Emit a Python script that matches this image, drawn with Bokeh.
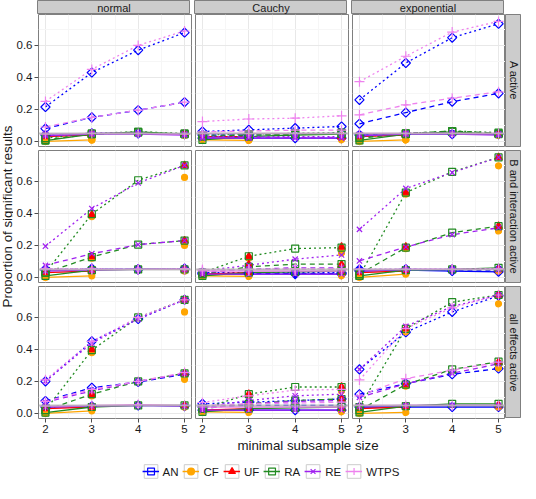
import numpy as np
from bokeh.plotting import figure
from bokeh.layouts import row, column
from bokeh.models import FixedTicker, Span, Legend, LegendItem, Spacer, Range1d, PrintfTickFormatter
from bokeh.core.properties import value
from bokeh.embed import file_html
from bokeh.resources import INLINE

nan = float("nan")

# ---------------- data ----------------
sizes = [2, 3, 4, 5]
x_tick_labels = ["2", "3", "4", "5"]
y_ticks = [0.0, 0.2, 0.4, 0.6]
methods = ["AN", "CF", "UF", "RA", "RE", "WTPS"]
distributions = ["normal", "Cauchy", "exponential"]
scenarios = ["A active", "B and interaction active", "all effects active"]
null_level = 0.05

# each entry: method -> [solid, dashed, dotted] values at sizes 2..5
A_normal = {
    "AN":   [[0.04, 0.05, 0.05, 0.045], [0.08, 0.15, 0.195, 0.245], [0.215, 0.43, 0.57, 0.68]],
    "CF":   [[0.0, 0.01, nan, 0.04], [nan, 0.01, nan, 0.04], [nan, 0.01, nan, 0.04]],
    "UF":   [[0.03, 0.04, nan, 0.045], [nan, 0.04, nan, 0.045], [nan, 0.04, nan, 0.045]],
    "RA":   [[0.005, 0.045, 0.06, 0.045], [0.01, 0.045, 0.055, 0.045], [0.02, 0.05, 0.06, 0.05]],
    "RE":   [[0.035, 0.045, 0.045, 0.04], [0.04, 0.05, 0.05, 0.045], [0.045, 0.05, 0.05, 0.045]],
    "WTPS": [[0.045, 0.05, 0.05, 0.045], [0.09, 0.15, 0.195, 0.245], [0.25, 0.45, 0.60, 0.69]],
}
A_cauchy = {
    "AN":   [[0.02, 0.02, 0.02, 0.02], [0.04, 0.04, 0.045, 0.05], [0.062, 0.072, 0.083, 0.093]],
    "CF":   [[0.01, 0.006, nan, 0.01], [nan, 0.01, nan, 0.02], [nan, 0.01, nan, 0.02]],
    "UF":   [[0.03, 0.03, nan, 0.03], [nan, 0.03, nan, 0.03], [nan, 0.03, nan, 0.03]],
    "RA":   [[0.01, 0.03, 0.04, 0.045], [0.03, 0.04, 0.045, 0.05], [0.04, 0.045, 0.05, 0.055]],
    "RE":   [[0.02, 0.02, 0.02, 0.02], [0.025, 0.025, 0.025, 0.025], [0.03, 0.03, 0.03, 0.03]],
    "WTPS": [[0.05, 0.05, 0.05, 0.05], [0.06, 0.065, 0.07, 0.07], [0.124, 0.14, 0.145, 0.16]],
}
A_exponential = {
    "AN":   [[0.04, 0.045, 0.045, 0.045], [0.11, 0.18, 0.248, 0.30], [0.259, 0.49, 0.648, 0.735]],
    "CF":   [[0.0, 0.01, nan, 0.04], [nan, 0.01, nan, 0.04], [nan, 0.01, nan, 0.04]],
    "UF":   [[0.03, 0.04, nan, 0.045], [nan, 0.04, nan, 0.045], [nan, 0.04, nan, 0.045]],
    "RA":   [[0.006, 0.045, 0.06, 0.045], [0.02, 0.05, 0.065, 0.05], [0.03, 0.05, 0.065, 0.055]],
    "RE":   [[0.035, 0.045, 0.045, 0.04], [0.04, 0.05, 0.05, 0.045], [0.045, 0.05, 0.05, 0.045]],
    "WTPS": [[0.05, 0.05, 0.05, 0.05], [0.166, 0.228, 0.27, 0.31], [0.373, 0.532, 0.683, 0.75]],
}
B_normal = {
    "AN":   [[0.045, 0.05, 0.05, 0.05], [0.05, 0.05, 0.05, 0.05], [0.05, 0.055, 0.05, 0.055]],
    "CF":   [[0.0, 0.01, nan, 0.04], [nan, 0.12, nan, 0.20], [nan, 0.38, nan, 0.625]],
    "UF":   [[0.03, 0.04, nan, 0.05], [nan, 0.13, nan, 0.23], [nan, 0.39, nan, 0.70]],
    "RA":   [[0.01, 0.045, 0.05, 0.05], [0.03, 0.127, 0.205, 0.23], [0.03, 0.395, 0.607, 0.70]],
    "RE":   [[0.04, 0.045, 0.05, 0.05], [0.075, 0.148, 0.205, 0.23], [0.195, 0.43, 0.59, 0.70]],
    "WTPS": [[0.05, 0.05, 0.05, 0.05], [0.05, 0.05, 0.05, 0.05], [0.055, 0.055, 0.05, 0.055]],
}
B_cauchy = {
    "AN":   [[0.02, 0.02, 0.02, 0.02], [0.025, 0.025, 0.025, 0.025], [0.03, 0.03, 0.03, 0.03]],
    "CF":   [[0.01, 0.006, nan, 0.01], [nan, 0.06, nan, 0.07], [nan, 0.12, nan, 0.153]],
    "UF":   [[0.02, 0.03, nan, 0.03], [nan, 0.08, nan, 0.08], [nan, 0.13, nan, 0.19]],
    "RA":   [[0.01, 0.03, 0.035, 0.04], [0.02, 0.066, 0.083, 0.083], [0.03, 0.132, 0.18, 0.186]],
    "RE":   [[0.02, 0.02, 0.02, 0.02], [0.03, 0.05, 0.06, 0.06], [0.04, 0.076, 0.114, 0.14]],
    "WTPS": [[0.04, 0.04, 0.04, 0.04], [0.045, 0.05, 0.05, 0.05], [0.05, 0.05, 0.055, 0.055]],
}
B_exponential = {
    "AN":   [[0.04, 0.045, 0.04, 0.035], [0.045, 0.05, 0.045, 0.045], [0.05, 0.05, 0.05, 0.05]],
    "CF":   [[0.0, 0.02, nan, 0.04], [nan, 0.18, nan, 0.29], [nan, 0.52, nan, 0.697]],
    "UF":   [[0.03, 0.04, nan, 0.05], [nan, 0.19, nan, 0.32], [nan, 0.53, nan, 0.75]],
    "RA":   [[0.01, 0.045, 0.05, 0.06], [0.02, 0.186, 0.28, 0.32], [0.01, 0.53, 0.66, 0.75]],
    "RE":   [[0.04, 0.05, 0.05, 0.05], [0.103, 0.19, 0.267, 0.31], [0.30, 0.556, 0.655, 0.75]],
    "WTPS": [[0.05, 0.05, 0.05, 0.05], [0.05, 0.05, 0.05, 0.05], [0.05, 0.05, 0.05, 0.055]],
}
C_normal = {
    "AN":   [[0.04, 0.045, 0.05, 0.045], [0.078, 0.16, 0.196, 0.244], [0.20, 0.45, 0.59, 0.71]],
    "CF":   [[0.0, 0.016, nan, 0.04], [nan, 0.11, nan, 0.213], [nan, 0.38, nan, 0.634]],
    "UF":   [[0.03, 0.04, nan, 0.05], [nan, 0.12, nan, 0.25], [nan, 0.40, nan, 0.71]],
    "RA":   [[0.005, 0.04, 0.05, 0.05], [0.02, 0.12, 0.20, 0.25], [0.02, 0.395, 0.60, 0.71]],
    "RE":   [[0.04, 0.045, 0.05, 0.045], [0.07, 0.14, 0.20, 0.25], [0.20, 0.44, 0.59, 0.71]],
    "WTPS": [[0.045, 0.05, 0.055, 0.05], [0.075, 0.15, 0.20, 0.255], [0.21, 0.45, 0.60, 0.71]],
}
C_cauchy = {
    "AN":   [[0.02, 0.02, 0.02, 0.02], [0.04, 0.05, 0.05, 0.05], [0.06, 0.07, 0.08, 0.09]],
    "CF":   [[0.01, 0.006, nan, 0.01], [nan, 0.05, nan, 0.08], [nan, 0.11, nan, 0.14]],
    "UF":   [[0.02, 0.03, nan, 0.03], [nan, 0.07, nan, 0.09], [nan, 0.12, nan, 0.165]],
    "RA":   [[0.01, 0.03, 0.035, 0.04], [0.03, 0.06, 0.08, 0.09], [0.03, 0.12, 0.165, 0.165]],
    "RE":   [[0.02, 0.02, 0.02, 0.02], [0.03, 0.06, 0.075, 0.08], [0.04, 0.08, 0.11, 0.12]],
    "WTPS": [[0.04, 0.04, 0.04, 0.04], [0.05, 0.06, 0.065, 0.07], [0.068, 0.11, 0.145, 0.15]],
}
C_exponential = {
    "AN":   [[0.04, 0.04, 0.04, 0.04], [0.12, 0.186, 0.244, 0.28], [0.275, 0.507, 0.634, 0.735]],
    "CF":   [[0.0, 0.006, nan, 0.04], [nan, 0.17, nan, 0.285], [nan, 0.51, nan, 0.685]],
    "UF":   [[0.03, 0.04, nan, 0.05], [nan, 0.18, nan, 0.32], [nan, 0.53, nan, 0.74]],
    "RA":   [[0.006, 0.045, 0.06, 0.06], [0.02, 0.18, 0.275, 0.323], [0.04, 0.528, 0.695, 0.74]],
    "RE":   [[0.045, 0.05, 0.05, 0.05], [0.10, 0.185, 0.25, 0.31], [0.275, 0.544, 0.668, 0.74]],
    "WTPS": [[0.05, 0.05, 0.05, 0.05], [0.11, 0.217, 0.27, 0.32], [0.209, 0.53, 0.66, 0.74]],
}
panel_data = [
    [A_normal, A_cauchy, A_exponential],
    [B_normal, B_cauchy, B_exponential],
    [C_normal, C_cauchy, C_exponential],
]

# ---------------- styles ----------------
colors = {"AN": "#0000FF", "CF": "#FFA500", "UF": "#FF0000", "RA": "#228B22", "RE": "#A020F0", "WTPS": "#EE82EE"}
markers = {
    "AN": dict(marker="square", size=6.5, angle=np.pi / 4, fill_color=None),
    "CF": dict(marker="circle", size=6, fill=True),
    "UF": dict(marker="triangle", size=7.5, fill=True),
    "RA": dict(marker="square", size=7, fill_color=None),
    "RE": dict(marker="x", size=7.5, fill_color=None),
    "WTPS": dict(marker="cross", size=10, fill_color=None),
}
dashes = ["solid", "5 4", "2 3"]
FONT = "Liberation Sans"
TXT = "#1a1a1a"
PW, PH = 153, 132
GAP = 4
LEFT_AX = 24
YLAB_W = 13
STRIP_T = 14
STRIP_R = 16


def marker_kwargs(m):
    d = dict(markers[m])
    c = colors[m]
    if d.pop("fill", False):
        d["fill_color"] = c
    return d


def make_panel(data, ci, ri):
    left = ci == 0
    bottom = ri == 2
    p = figure(frame_width=PW, frame_height=PH,
               x_range=Range1d(1.85, 5.15), y_range=Range1d(-0.032, 0.793),
               toolbar_location=None, output_backend="svg",
               x_axis_location="below" if bottom else None,
               y_axis_location="left" if left else None,
               min_border_left=LEFT_AX if left else 0,
               min_border_right=GAP if ci < 2 else 0,
               min_border_top=0, min_border_bottom=0 if bottom else GAP)
    p.background_fill_color = "white"
    p.border_fill_color = "white"
    p.outline_line_color = "#7f7f7f"
    p.outline_line_width = 1
    p.xgrid.ticker = FixedTicker(ticks=sizes, minor_ticks=[2.5, 3.5, 4.5])
    p.ygrid.ticker = FixedTicker(ticks=y_ticks, minor_ticks=[0.1, 0.3, 0.5, 0.7])
    for g in (p.xgrid, p.ygrid):
        g.grid_line_color = "#e8e8e8"
        g.grid_line_width = 1
        g.minor_grid_line_color = "#f6f6f6"
    if bottom:
        ax = p.xaxis[0]
        ax.ticker = FixedTicker(ticks=sizes)
        ax.major_label_overrides = {s: l for s, l in zip(sizes, x_tick_labels)}
    if left:
        ax = p.yaxis[0]
        ax.ticker = FixedTicker(ticks=y_ticks)
        ax.formatter = PrintfTickFormatter(format="%.1f")
    for ax in p.axis:
        ax.axis_line_color = None
        ax.major_tick_line_color = "#4d4d4d"
        ax.major_tick_out = 4
        ax.major_tick_in = 0
        ax.minor_tick_line_color = None
        ax.major_label_standoff = 2
        ax.major_label_text_font = FONT
        ax.major_label_text_font_size = "11.5px"
        ax.major_label_text_color = TXT

    for m in methods:
        for k in range(3):
            p.line(sizes, data[m][k], line_color=colors[m], line_width=1.3, line_dash=dashes[k])
    span = Span(location=null_level, dimension="width", line_color="#b0b0b0", line_width=2, line_alpha=0.75, level="glyph")
    p.add_layout(span)
    for m in methods:
        kw = marker_kwargs(m)
        for k in range(3):
            p.scatter(sizes, data[m][k], line_color=colors[m], line_width=1.2, **kw)
    return p


def make_strip(label, w, h, vertical=False, bottom_gap=0):
    s = figure(frame_width=w, frame_height=h, x_range=Range1d(0, 1), y_range=Range1d(0, 1),
               toolbar_location=None, output_backend="svg",
               x_axis_location=None, y_axis_location=None,
               min_border_left=0, min_border_right=0, min_border_top=0, min_border_bottom=bottom_gap)
    s.grid.visible = False
    s.background_fill_color = "#cccccc"
    s.border_fill_color = "white"
    s.outline_line_color = "#7f7f7f"
    s.text(x=[0.5], y=[0.5], text=[label], angle=-np.pi / 2 if vertical else 0,
           text_align="center", text_baseline="middle",
           text_font=value(FONT), text_font_size="11px", text_color=TXT)
    return s


def make_text_fig(label, w, h, angle=0, size="13.3px", xpos=0.5):
    t = figure(frame_width=w, frame_height=h, x_range=Range1d(0, 1), y_range=Range1d(0, 1),
               toolbar_location=None, output_backend="svg",
               x_axis_location=None, y_axis_location=None, min_border=0)
    t.grid.visible = False
    t.outline_line_color = None
    t.text(x=[xpos], y=[0.5], text=[label], angle=angle, text_align="center", text_baseline="middle",
           text_font=value(FONT), text_font_size=size, text_color=TXT)
    return t


# top strips
top_items = [Spacer(width=YLAB_W + LEFT_AX, height=STRIP_T)]
for ci, d in enumerate(distributions):
    top_items.append(make_strip(d, PW, STRIP_T))
    if ci < 2:
        top_items.append(Spacer(width=GAP, height=STRIP_T))
top_row = row(*top_items)

panel_rows = []
for ri in range(3):
    figs = [make_panel(panel_data[ri][ci], ci, ri) for ci in range(3)]
    figs.append(make_strip(scenarios[ri], STRIP_R, PH, vertical=True, bottom_gap=GAP if ri < 2 else 0))
    panel_rows.append(row(*figs))

total_w = YLAB_W + LEFT_AX + 3 * PW + 2 * GAP + STRIP_R
ylab = make_text_fig("Proportion of significant results", YLAB_W, 3 * PH + 2 * GAP, angle=np.pi / 2)
mid = row(ylab, column(*panel_rows))

panels_center = (YLAB_W + LEFT_AX + (3 * PW + 2 * GAP) / 2) / total_w
xtitle = make_text_fig("minimal subsample size", total_w, 20, xpos=panels_center)

# legend figure (frame spans the panel area so the legend is centred under the panels)
lg = figure(frame_width=3 * PW + 2 * GAP, frame_height=32, x_range=Range1d(0, 1), y_range=Range1d(0, 1),
            toolbar_location=None, output_backend="svg",
            x_axis_location=None, y_axis_location=None,
            min_border_left=YLAB_W + LEFT_AX, min_border_right=STRIP_R, min_border_top=0, min_border_bottom=0)
lg.grid.visible = False
lg.outline_line_color = None
items = []
for m in methods:
    box = lg.quad(left=[nan], right=[nan], top=[nan], bottom=[nan], fill_color="white", line_color="#cccccc", line_width=1)
    ln = lg.line([nan], [nan], line_color=colors[m], line_width=1.3)
    sc = lg.scatter([nan], [nan], line_color=colors[m], line_width=1.2, **marker_kwargs(m))
    items.append(LegendItem(label=m, renderers=[box, ln, sc]))
legend = Legend(items=items, orientation="horizontal", location="center",
                glyph_width=17, glyph_height=17, label_standoff=4, spacing=4, label_width=10,
                padding=0, margin=0, border_line_color=None, background_fill_alpha=0,
                label_text_font=FONT, label_text_font_size="11.5px", label_text_color=TXT)
lg.add_layout(legend, "center")

layout = column(top_row, mid, xtitle, lg)

open("out.html", "w").write(file_html(layout, INLINE))
